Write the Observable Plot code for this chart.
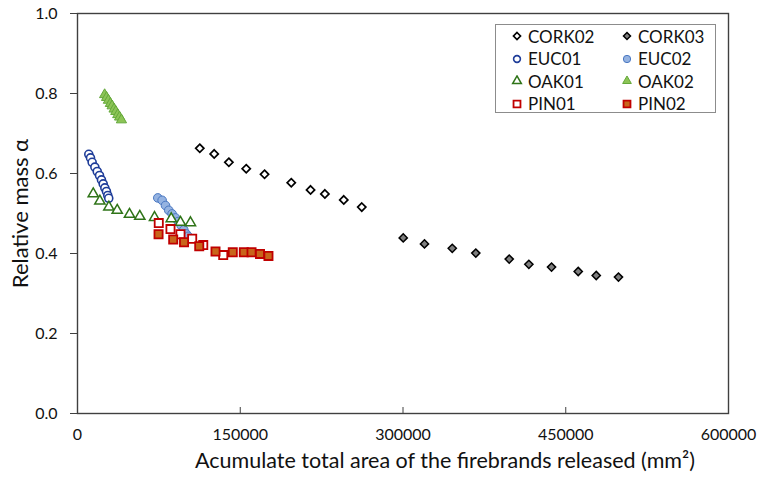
<!DOCTYPE html>
<html>
<head>
<meta charset="utf-8">
<script src="https://cdn.jsdelivr.net/npm/d3@7"></script>
<script src="https://cdn.jsdelivr.net/npm/@observablehq/plot@0.6"></script>
<style>
  html, body { margin: 0; padding: 0; background: #fff; }
  #wrap { position: relative; width: 765px; height: 482px; font-family: Lato, "Open Sans", sans-serif; }
  #legend { position: absolute; left: 495px; top: 24px; width: 221px; height: 89px; border: 1px solid #8c8c8c; background: #fff; box-sizing: border-box; }
  .item { position: absolute; height: 22px; display: flex; align-items: center; font-size: 17px; color: #111; }
  .item svg { margin-right: 5px; }
</style>
</head>
<body>
<div id="wrap"><div id="legend"></div></div>
<script>
// ---- data ----
const xTicks = [0, 150000, 300000, 450000, 600000];
const yTicks = [0, 0.2, 0.4, 0.6, 0.8, 1.0];
const xTitle = "Acumulate total area of the firebrands released (mm²)";
const yTitle = "Relative mass α";

const seriesNames = ["CORK02", "CORK03", "EUC01", "EUC02", "OAK01", "OAK02", "PIN01", "PIN02"];

const cork02X = [112700, 126000, 139500, 155500, 172400, 197000, 214800, 228000, 245400, 262000];
const cork02Y = [0.663, 0.649, 0.628, 0.612, 0.598, 0.577, 0.559, 0.549, 0.534, 0.516];

const cork03X = [300200, 319800, 345400, 367100, 397900, 416000, 436900, 461500, 478100, 498600];
const cork03Y = [0.439, 0.424, 0.413, 0.401, 0.386, 0.373, 0.366, 0.355, 0.345, 0.341];

const euc01X = [10400, 12000, 13500, 16000, 18200, 20300, 22100, 23700, 25200, 26700, 27900, 28800];
const euc01Y = [0.648, 0.639, 0.628, 0.616, 0.605, 0.595, 0.584, 0.574, 0.564, 0.555, 0.545, 0.538];

const euc02X = [74000, 78000, 81100, 84100, 87200, 90300, 92800, 95500, 98000, 100200, 102000];
const euc02Y = [0.539, 0.533, 0.520, 0.508, 0.499, 0.489, 0.480, 0.470, 0.459, 0.449, 0.443];

const oak01X = [14500, 20600, 28900, 36600, 47900, 57400, 71000, 86400, 94900, 104100];
const oak01Y = [0.549, 0.531, 0.516, 0.508, 0.498, 0.493, 0.490, 0.487, 0.478, 0.477];

const oak02X = [25000, 26800, 28500, 30300, 31900, 33700, 35300, 37100, 38800, 40500];
const oak02Y = [0.797, 0.790, 0.783, 0.775, 0.769, 0.761, 0.755, 0.747, 0.741, 0.734];

const pin01X = [74900, 85700, 94900, 105700, 115900, 134300];
const pin01Y = [0.476, 0.461, 0.448, 0.437, 0.421, 0.396];

const pin02X = [74700, 88200, 98200, 112200, 127200, 143100, 153300, 160400, 168200, 176000];
const pin02Y = [0.448, 0.435, 0.428, 0.418, 0.405, 0.403, 0.403, 0.403, 0.399, 0.394];

// ---- styles ----
const styles = {
  CORK02: {symbol: "diamond2", r: 3.7, fill: "#ffffff", stroke: "#000000", sw: 1.7},
  CORK03: {symbol: "diamond2", r: 3.7, fill: "#7f7f7f", stroke: "#000000", sw: 1.5},
  EUC01:  {symbol: "circle", r: 4.0, fill: "#ffffff", stroke: "#1f3d99", sw: 1.6},
  EUC02:  {symbol: "circle", r: 4.3, fill: "#95b3e1", stroke: "#4a78c2", sw: 1.0},
  OAK01:  {symbol: "triangle", r: 3.8, fill: "#ffffff", stroke: "#2f7418", sw: 1.5},
  OAK02:  {symbol: "triangle", r: 3.8, fill: "#8cc456", stroke: "#64a83a", sw: 1.0},
  PIN01:  {symbol: "square", r: 4.6, fill: "#ffffff", stroke: "#c00000", sw: 1.8},
  PIN02:  {symbol: "square", r: 4.6, fill: "#c8651b", stroke: "#c00000", sw: 1.8}
};

const seriesData = {
  CORK02: [cork02X, cork02Y], CORK03: [cork03X, cork03Y],
  EUC01: [euc01X, euc01Y], EUC02: [euc02X, euc02Y],
  OAK01: [oak01X, oak01Y], OAK02: [oak02X, oak02Y],
  PIN01: [pin01X, pin01Y], PIN02: [pin02X, pin02Y]
};

const dotMarks = seriesNames.map(name => {
  const [xs, ys] = seriesData[name];
  const s = styles[name];
  const rows = xs.map((x, i) => ({x, y: ys[i]}));
  return Plot.dot(rows, {x: "x", y: "y", symbol: s.symbol, r: s.r, fill: s.fill, stroke: s.stroke, strokeWidth: s.sw});
});

const chart = Plot.plot({
  width: 765,
  height: 482,
  marginLeft: 77,
  marginRight: 37,
  marginTop: 13,
  marginBottom: 69,
  style: {fontFamily: "Lato, 'Open Sans', sans-serif", fontSize: "16px", color: "#111", background: "#fff"},
  x: {domain: [0, 600000]},
  y: {domain: [0, 1]},
  marks: [
    Plot.axisY({ticks: yTicks, tickFormat: d3.format(".1f"), tickSize: 7, tickPadding: 13, label: null, fontSize: 16, stroke: "#404040"}),
    Plot.axisX({ticks: xTicks, tickSize: 0, tickPadding: 15, tickFormat: d => String(d), label: null, fontSize: 16}),
    Plot.axisX({ticks: xTicks, tickSize: 6, dy: -6, tickFormat: () => "", label: null, stroke: "#404040"}),
    Plot.frame({stroke: "#404040", strokeWidth: 1.4}),
    ...dotMarks,
    Plot.text([xTitle], {frameAnchor: "bottom", dx: 42, dy: 54, fontSize: 21.5, fill: "#111"}),
    Plot.text([yTitle], {frameAnchor: "left", textAnchor: "middle", dx: -57, rotate: -90, fontSize: 22, fill: "#111"})
  ]
});

const wrap = document.getElementById("wrap");
wrap.insertBefore(chart, wrap.firstChild);

// ---- legend (HTML overlay inside the plot area, like the reference) ----
const legend = document.getElementById("legend");
const symbolTypes = {diamond2: d3.symbolDiamond2, circle: d3.symbolCircle, triangle: d3.symbolTriangle, square: d3.symbolSquare};
seriesNames.forEach((name, i) => {
  const s = styles[name];
  const col = i % 2, row = Math.floor(i / 2);
  const div = document.createElement("div");
  div.className = "item";
  div.style.left = (col === 0 ? 15 : 125) + "px";
  div.style.top = (row * 22.5 + 0) + "px";
  const r = s.r * 0.85;
  const path = d3.symbol(symbolTypes[s.symbol], Math.PI * r * r)();
  div.innerHTML = `<svg width="12" height="12" viewBox="-6 -6 12 12"><path d="${path}" fill="${s.fill}" stroke="${s.stroke}" stroke-width="${s.sw}"/></svg><span>${name}</span>`;
  legend.appendChild(div);
});
</script>
</body>
</html>
